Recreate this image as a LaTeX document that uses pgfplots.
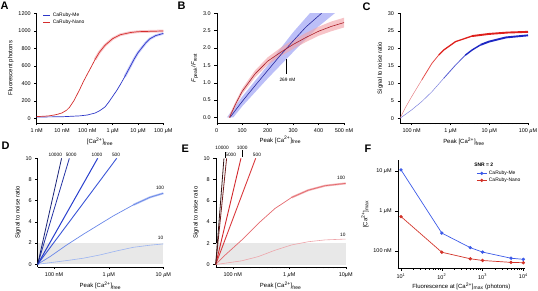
\documentclass[border=0pt]{standalone}
\usepackage{fontspec}
\setmainfont{Liberation Sans}
\usepackage{pgfplots}
\pgfplotsset{compat=1.18}
\definecolor{meblue}{RGB}{45,55,200}
\definecolor{nanored}{RGB}{212,45,45}
\definecolor{bandblue}{RGB}{165,170,245}
\definecolor{bandred}{RGB}{242,165,170}
\definecolor{bblue}{RGB}{40,40,160}
\definecolor{bred}{RGB}{170,30,40}
\definecolor{credlight}{RGB}{228,120,125}
\definecolor{credthick}{RGB}{222,32,28}
\definecolor{cbluelight}{RGB}{115,120,218}
\definecolor{cbluethick}{RGB}{28,38,195}
\definecolor{dA}{RGB}{25,35,120}
\definecolor{dB}{RGB}{35,50,165}
\definecolor{dC}{RGB}{40,62,205}
\definecolor{dD}{RGB}{58,85,215}
\definecolor{dE}{RGB}{105,135,232}
\definecolor{dF}{RGB}{155,180,242}
\definecolor{eA}{RGB}{55,22,22}
\definecolor{eB}{RGB}{115,30,30}
\definecolor{eC}{RGB}{210,40,45}
\definecolor{eD}{RGB}{218,58,62}
\definecolor{eE}{RGB}{228,105,110}
\definecolor{eF}{RGB}{238,165,170}
\definecolor{fblue}{RGB}{60,90,232}
\definecolor{fred}{RGB}{210,50,40}
\newcommand{\uM}{{\itshape µ}M}
\newcommand{\Ca}{[Ca\textsuperscript{2+}]}
\tikzset{linlab/.style={font=\fontsize{4.8}{5}\selectfont, inner sep=0.5pt}}
\pgfplotsset{
 igor/.style={
  scale only axis, clip=false, anchor=south west,
  axis x line*=bottom, axis y line*=left,
  axis line style={line width=0.4pt, black},
  every tick/.style={black, line width=0.4pt},
  tick align=outside,
  major tick length=2.5pt, minor tick length=1.4pt,
  tick label style={font=\fontsize{5.5}{6}\selectfont},
  label style={font=\fontsize{6}{7}\selectfont},
  /pgf/number format/assume math mode=true,
  /pgf/number format/1000 sep={},
  enlargelimits=false,
  xlabel style={yshift=3pt}, ylabel style={yshift=-2pt},
  legend cell align=left,
 },
}
\begin{document}
\begin{tikzpicture}[x=1bp,y=1bp]
\path[use as bounding box] (0,0) rectangle (538,290);

% ---------------- A
\begin{axis}[igor, at={(36.7bp,167.3bp)}, width=126.6bp, height=109.4bp,
  xmode=log, xmin=1e-9, xmax=1e-4, ymin=-50, ymax=1200,
  xtick={1e-9,1e-8,1e-7,1e-6,1e-5,1e-4},
  xticklabels={1 nM,10 nM,100 nM,1 \uM,10 \uM,100 \uM},
  xminorticks=false,
  ytick={0,200,400,600,800,1000,1200},
  xlabel={\Ca\textsubscript{free}}, ylabel={Fluorescent photons},
  legend style={at={(axis description cs:0.04,1.03)}, anchor=north west, draw=none, fill=none,
    font=\fontsize{5}{5.5}\selectfont, row sep=-2.5pt, inner sep=1pt},
  legend image code/.code={\draw[#1, line width=0.8pt] (0cm,0cm) -- (0.25cm,0cm);}]
\addplot[bandblue, line width=2.6pt, opacity=0.6, forget plot] coordinates {
(3e-6,475)(5e-6,595)(7e-6,675)(1e-5,750)(2e-5,860)(3e-5,910)(5e-5,945)(1e-4,970)};
\addplot[bandred, line width=2.8pt, opacity=0.6, forget plot] coordinates {
(2e-7,670)(3e-7,755)(5e-7,835)(1e-6,910)(2e-6,955)(5e-6,980)(1e-5,990)(1e-4,998)};
\addplot[meblue, line width=0.7pt] coordinates {
(1e-9,15)(1e-8,18)(5e-8,28)(1e-7,38)(2e-7,60)(3e-7,85)(5e-7,130)(7e-7,185)(1e-6,250)
(1.5e-6,325)(2e-6,385)(3e-6,475)(5e-6,595)(7e-6,675)(1e-5,750)(2e-5,860)(3e-5,910)(5e-5,945)(1e-4,970)};
\addlegendentry{CaRuby-Me}
\addplot[nanored, line width=0.7pt] coordinates {
(1e-9,20)(2e-9,24)(3e-9,28)(5e-9,38)(7e-9,48)(1e-8,62)(1.5e-8,92)(2e-8,128)(3e-8,205)(5e-8,330)(7e-8,420)(1e-7,505)
(1.5e-7,600)(2e-7,670)(3e-7,755)(5e-7,835)(1e-6,910)(2e-6,955)(5e-6,980)(1e-5,990)(1e-4,998)};
\addlegendentry{CaRuby-Nano}
\end{axis}

% ---------------- B
\begin{axis}[igor, clip=true, at={(216.7bp,167.3bp)}, width=127.3bp, height=109.5bp,
  xmin=0, xmax=500, ymin=-0.15, ymax=3.0,
  xtick={0,100,200,300,400,500}, xticklabels={0,100,200,300,400,500 nM},
  ytick={0,0.5,1,1.5,2,2.5,3},
  yticklabel style={/pgf/number format/.cd, fixed, fixed zerofill, precision=1},
  xlabel={Peak \Ca\textsubscript{free}},
  ylabel={\textit{F}\textsubscript{peak}/\textit{F}\textsubscript{rest}}]
\addplot[fill=bandblue, fill opacity=0.75, draw=none] coordinates {
(40,0)(100,0.6)(150,1.05)(200,1.5)(250,1.98)(300,2.45)(366,3.0)(372,3.05)
(472,3.05)(464,3.0)(400,2.62)(350,2.25)(300,1.88)(250,1.5)(200,1.12)(150,0.72)(100,0.32)(65,0)} -- cycle;
\addplot[fill=bandred, fill opacity=0.65, draw=none] coordinates {
(45,0)(75,0.47)(100,0.83)(150,1.35)(200,1.73)(250,2.0)(300,2.23)(350,2.43)(400,2.61)(450,2.76)(500,2.87)
(500,2.59)(450,2.48)(400,2.35)(350,2.17)(300,1.97)(250,1.76)(200,1.51)(150,1.15)(100,0.67)(75,0.33)(55,0)} -- cycle;
\addplot[bblue, line width=0.6pt] coordinates {
(52,0)(100,0.46)(150,0.91)(200,1.35)(250,1.79)(300,2.2)(350,2.6)(412,3.0)};
\addplot[bred, line width=0.6pt] coordinates {
(50,0)(75,0.4)(100,0.75)(150,1.25)(200,1.62)(250,1.87)(300,2.1)(350,2.3)(400,2.48)(450,2.62)(500,2.73)};
\draw[line width=0.4pt] (axis cs:272,1.68) -- (axis cs:272,1.25);
\node[font=\fontsize{4.8}{5}\selectfont] at (axis cs:278,1.08) {269 nM};
\end{axis}

% ---------------- C
\begin{axis}[igor, at={(400bp,167.3bp)}, width=128bp, height=109.4bp,
  xmode=log, xmin=5e-8, xmax=1e-4, ymin=-1.26, ymax=30,
  xtick={1e-7,1e-6,1e-5,1e-4}, xticklabels={100 nM,1 \uM,10 \uM,100 \uM},
  minor xtick={6e-8,7e-8,8e-8,9e-8,2e-7,3e-7,4e-7,5e-7,6e-7,7e-7,8e-7,9e-7,
    2e-6,3e-6,4e-6,5e-6,6e-6,7e-6,8e-6,9e-6,2e-5,3e-5,4e-5,5e-5,6e-5,7e-5,8e-5,9e-5},
  ytick={0,5,10,15,20,25,30},
  xlabel={Peak \Ca\textsubscript{free}}, ylabel={Signal to noise ratio}]
\addplot[credlight, line width=0.45pt] coordinates {
(5e-8,0)(7e-8,3.2)(1e-7,6.2)(1.83e-7,11)};
\addplot[credthick!80!white, line width=0.8pt] coordinates {
(1.83e-7,11)(3.33e-7,15.7)(5e-7,18.1)};
\addplot[credthick, line width=1.3pt] coordinates {
(5e-7,18.1)(6.68e-7,19.5)(1.35e-6,21.9)(3.6e-6,23.5)};
\addplot[credthick, line width=1.9pt] coordinates {
(3.6e-6,23.5)(9.8e-6,24.1)(3e-5,24.5)(1e-4,24.7)};
\addplot[cbluelight, line width=0.45pt] coordinates {
(5e-8,0)(1e-7,2.4)(1.83e-7,4.8)(3.33e-7,7.6)(6.68e-7,11.4)};
\addplot[cbluethick!75!white, line width=0.8pt] coordinates {
(6.68e-7,11.4)(1.35e-6,15.2)(2.4e-6,18.0)};
\addplot[cbluethick, line width=1.4pt] coordinates {
(2.4e-6,18.0)(3.6e-6,19.5)(6e-6,21.0)};
\addplot[cbluethick, line width=1.9pt] coordinates {
(6e-6,21.0)(9.8e-6,21.9)(2.68e-5,23.1)(1e-4,23.7)};
\end{axis}

% ---------------- D
\begin{axis}[igor, at={(37.7bp,23.3bp)}, width=125.6bp, height=108.4bp,
  xmode=log, xmin=5e-8, xmax=1e-5, ymin=-0.23, ymax=10,
  xtick={1e-7,1e-6,1e-5}, xticklabels={100 nM,1 \uM,10 \uM},
  minor xtick={6e-8,7e-8,8e-8,9e-8,2e-7,3e-7,4e-7,5e-7,6e-7,7e-7,8e-7,9e-7,
    2e-6,3e-6,4e-6,5e-6,6e-6,7e-6,8e-6,9e-6},
  ytick={0,2,4,6,8,10},
  xlabel={Peak \Ca\textsubscript{free}}, ylabel={Signal to noise ratio}]
\addplot[fill=black!9, draw=none] coordinates {(5e-8,0)(1e-5,0)(1e-5,2)(5e-8,2)} -- cycle;
\addplot[dF, line width=0.6pt] coordinates {
(5e-8,0)(1.7e-7,0.35)(3.42e-7,0.57)(6.92e-7,0.88)(1.4e-6,1.26)(2.82e-6,1.6)(5.7e-6,1.8)(1e-5,1.92)};
\addplot[dE, line width=2pt, opacity=0.5] coordinates {
(2.82e-6,5.6)(5.7e-6,6.32)(1e-5,6.7)};
\addplot[dE, line width=0.7pt] coordinates {
(5e-8,0)(8.4e-8,0.72)(1.7e-7,1.82)(3.42e-7,2.83)(1.21e-6,4.56)(2.82e-6,5.6)(5.7e-6,6.32)(1e-5,6.7)};
\addplot[dD, line width=0.9pt] coordinates {(5e-8,0)(1.4e-6,10)};
\addplot[dC, line width=1pt] coordinates {(5e-8,0)(6.28e-7,10)};
\addplot[dB, line width=0.8pt] coordinates {(5e-8,0)(1.9e-7,10)};
\addplot[dA, line width=0.8pt] coordinates {(5e-8,0)(1.37e-7,10)};
\node[linlab] at (axis cs:1.05e-7,10.35) {10000};
\node[linlab] at (axis cs:2.05e-7,10.35) {5000};
\node[linlab] at (axis cs:6.1e-7,10.35) {1000};
\node[linlab] at (axis cs:1.36e-6,10.35) {500};
\node[linlab] at (axis cs:8.7e-6,7.25) {100};
\node[linlab] at (axis cs:8.9e-6,2.45) {10};
\end{axis}

% ---------------- E
\begin{axis}[igor, at={(215.7bp,23bp)}, width=130bp, height=108.7bp,
  xmode=log, xmin=5e-8, xmax=1e-5, ymin=-0.23, ymax=10,
  xtick={1e-7,1e-6,1e-5}, xticklabels={100 nM,1 \uM,10\uM},
  minor xtick={6e-8,7e-8,8e-8,9e-8,2e-7,3e-7,4e-7,5e-7,6e-7,7e-7,8e-7,9e-7,
    2e-6,3e-6,4e-6,5e-6,6e-6,7e-6,8e-6,9e-6},
  ytick={0,2,4,6,8,10},
  xlabel={Peak \Ca\textsubscript{free}}, ylabel={Signal to noise ratio}]
\addplot[fill=black!9, draw=none] coordinates {(5e-8,0)(1e-5,0)(1e-5,2)(5e-8,2)} -- cycle;
\addplot[eF, line width=0.6pt] coordinates {
(5e-8,0)(1.44e-7,0.35)(2.84e-7,0.75)(5.61e-7,1.35)(1.11e-6,1.85)(2.18e-6,2.15)(4.3e-6,2.32)(1e-5,2.4)};
\addplot[eE, line width=2pt, opacity=0.5] coordinates {
(1.11e-6,6.32)(2.18e-6,7.0)(4.3e-6,7.42)(1e-5,7.64)};
\addplot[eE, line width=0.7pt] coordinates {
(5e-8,0)(7.3e-8,0.88)(1.44e-7,2.3)(2.84e-7,3.87)(5.61e-7,5.28)(1.11e-6,6.32)(2.18e-6,7.0)(4.3e-6,7.42)(1e-5,7.64)};
\addplot[eD, line width=0.9pt] coordinates {(5e-8,0)(2.55e-7,10)};
\addplot[eC, line width=0.9pt] coordinates {(5e-8,0)(1.4e-7,10)};
\addplot[eB, line width=0.8pt] coordinates {(5e-8,0)(7.8e-8,10)};
\addplot[eA, line width=0.8pt] coordinates {(5e-8,0)(7e-8,10)};
\node[linlab] at (axis cs:6.5e-8,11.0) {10000};
\node[linlab] at (axis cs:9.2e-8,10.3) {5000};
\node[linlab] at (axis cs:1.47e-7,11.0) {1000};
\node[linlab] at (axis cs:2.69e-7,10.3) {500};
\draw[line width=0.3pt] (axis cs:7.3e-8,10.05) -- (axis cs:7.3e-8,10.55);
\draw[line width=0.3pt] (axis cs:1.48e-7,10.15) -- (axis cs:1.48e-7,10.75);
\node[linlab] at (axis cs:8.3e-6,8.17) {100};
\node[linlab] at (axis cs:8.9e-6,2.76) {10};
\end{axis}

% ---------------- F
\begin{axis}[igor, at={(397.7bp,21.7bp)}, width=127.3bp, height=108.3bp,
  xmode=log, ymode=log, xmin=8.3, xmax=1.1e4, ymin=3.7e-8, ymax=1.85e-5,
  xtick={10,100,1000,10000},
  xticklabels={10\textsuperscript{1},10\textsuperscript{2},10\textsuperscript{3},10\textsuperscript{4}},
  minor xtick={20,30,40,50,60,70,80,90,200,300,400,500,600,700,800,900,2000,3000,4000,5000,6000,7000,8000,9000},
  ytick={1e-7,1e-6,1e-5}, yticklabels={100 nM,1 \uM,10 \uM}, yminorticks=false,
  xlabel={Fluorescence at \Ca\textsubscript{max} (photons)},
  ylabel={\Ca\textsubscript{max}},
  legend style={at={(axis description cs:0.61,0.93)}, anchor=north west, draw=none, fill=none,
    font=\fontsize{5}{5.5}\selectfont, row sep=-2pt, inner sep=1pt},
  legend image code/.code={\draw[#1] plot[mark repeat=2, mark phase=2] coordinates {(0cm,0cm)(0.17cm,0cm)(0.34cm,0cm)};}]
\addplot[fblue, line width=0.7pt, mark=*, mark size=1.3pt] coordinates {
(10,1.05e-5)(100,2.8e-7)(500,1.21e-7)(1000,9.4e-8)(5000,6.6e-8)(10000,6.2e-8)};
\addlegendentry{CaRuby-Me}
\addplot[fred, line width=0.7pt, mark=*, mark size=1.3pt] coordinates {
(10,7.2e-7)(100,9.3e-8)(500,6.4e-8)(1000,5.8e-8)(5000,5.2e-8)(10000,5.1e-8)};
\addlegendentry{CaRuby-Nano}
\node[anchor=west, font=\fontsize{5}{5.5}\selectfont\bfseries, inner sep=0] at (axis description cs:0.6,0.955) {SNR = 2};
\end{axis}

% panel letters
\begin{scope}[every node/.style={anchor=north west, inner sep=0, font=\fontsize{11}{12}\selectfont\bfseries}]
\node at (0.5,288.5) {A};
\node at (177.5,288.5) {B};
\node at (362.5,287.5) {C};
\node at (1.5,148.5) {D};
\node at (181.5,145.5) {E};
\node at (364.5,145.5) {F};
\end{scope}
\end{tikzpicture}
\end{document}
